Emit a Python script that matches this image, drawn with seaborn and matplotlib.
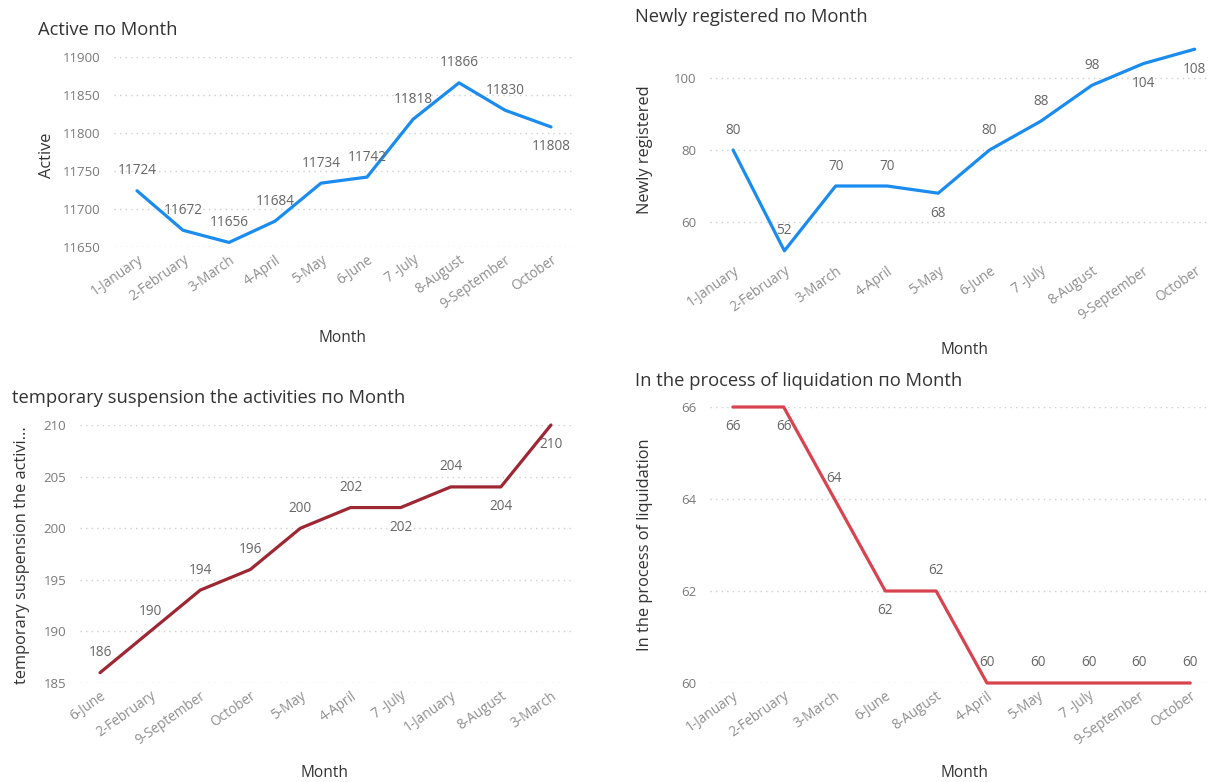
import numpy as np
import pandas as pd
import matplotlib
matplotlib.use("Agg")
import matplotlib.pyplot as plt
import seaborn as sns

sns.set_theme(style="white")
plt.rcParams['font.family'] = ['Open Sans', 'DejaVu Sans']

# ---------------- data ----------------
months_a = ["1-January", "2-February", "3-March", "4-April", "5-May", "6-June",
            "7 -July", "8-August", "9-September", "October"]
active = [11724, 11672, 11656, 11684, 11734, 11742, 11818, 11866, 11830, 11808]

months_n = months_a
newly = [80, 52, 70, 70, 68, 80, 88, 98, 104, 108]

months_t = ["6-June", "2-February", "9-September", "October", "5-May", "4-April",
            "7 -July", "1-January", "8-August", "3-March"]
suspension = [186, 190, 194, 196, 200, 202, 202, 204, 204, 210]

months_l = ["1-January", "2-February", "3-March", "6-June", "8-August", "4-April",
            "5-May", "7 -July", "9-September", "October"]
liquidation = [66, 66, 64, 62, 62, 60, 60, 60, 60, 60]

# label placement (+1 above, -1 below)
place_a = [1, 1, 1, 1, 1, 1, 1, 1, 1, -1]
place_n = [1, 1, 1, 1, -1, 1, 1, 1, -1, -1]
place_t = [1, 1, 1, 1, 1, 1, -1, 1, -1, -1]
place_l = [-1, -1, 1, -1, 1, 1, 1, 1, 1, 1]

W, H = 1209, 782
fig = plt.figure(figsize=(W / 100, H / 100), dpi=100)
fig.patch.set_facecolor("white")

BLUE = "#1A8CF0"
DARKRED = "#9E2734"
RED = "#D9434F"
TICK = "#7a7a7a"
XTICK = "#8f8f8f"
TITLE = "#333333"


def px_axes(left, top, right, bottom):
    return fig.add_axes([left / W, 1 - bottom / H, (right - left) / W, (bottom - top) / H])


def panel(left, top, right, bottom, cats, vals, place, color, ylim, yticks, xlim,
          title, title_xy, ylabel, ylabel_xy, xlabel_xy):
    ax = px_axes(left, top, right, bottom)
    df = pd.DataFrame({"Month": cats, "v": vals})
    sns.lineplot(data=df, x="Month", y="v", sort=False, color=color, lw=2.3,
                 ax=ax, clip_on=False)
    ax.set_ylim(*ylim)
    ax.set_xlim(*xlim)
    ax.set_yticks(yticks)
    ax.set_yticklabels([str(t) for t in yticks])
    ax.grid(axis="y", color="#cfcfcf", linestyle=(0, (1, 3)), lw=1.0)
    ax.grid(axis="x", visible=False)
    for s in ax.spines.values():
        s.set_visible(False)
    ax.tick_params(axis="y", length=0, colors=TICK, labelsize=9.5, pad=10)
    ax.tick_params(axis="x", length=0, colors=XTICK, labelsize=9.8, pad=4)
    for lab in ax.get_xticklabels():
        lab.set_rotation(35)
        lab.set_ha("right")
        lab.set_rotation_mode("anchor")
    ax.set_xlabel("")
    ax.set_ylabel("")
    for i, (v, p) in enumerate(zip(vals, place)):
        ax.annotate(str(v), (i, v), xytext=(0, 9 * p), textcoords="offset points",
                    ha="center", va="bottom" if p > 0 else "top", fontsize=9.8,
                    color="#666666", annotation_clip=False)
    fig.text(title_xy[0] / W, 1 - title_xy[1] / H, title, fontsize=13.2, color=TITLE,
             ha="left", va="center", fontweight="medium")
    fig.text(ylabel_xy[0] / W, 1 - ylabel_xy[1] / H, ylabel, fontsize=11.8, color=TITLE,
             rotation=90, ha="center", va="center")
    fig.text(xlabel_xy[0] / W, 1 - xlabel_xy[1] / H, "Month", fontsize=11.2, color=TITLE,
             ha="center", va="center")
    return ax


panel(114, 57, 574, 247, months_a, active, place_a, BLUE, (11650, 11900),
      [11650, 11700, 11750, 11800, 11850, 11900], (-0.5, 9.5),
      "Active по Month", (38, 30), "Active", (47, 155), (343, 338))

panel(710, 42, 1209, 258, months_n, newly, place_n, BLUE, (50, 110),
      [60, 80, 100], (-0.45, 9.28),
      "Newly registered по Month", (635, 17), "Newly registered", (645, 150), (965, 350))

panel(80, 425, 572, 683, months_t, suspension, place_t, DARKRED, (185, 210),
      [185, 190, 195, 200, 205, 210], (-0.4, 9.42),
      "temporary suspension the activities по Month", (12, 398),
      "temporary suspension the activi...", (22, 555), (325, 773))

panel(710, 407, 1209, 683, months_l, liquidation, place_l, RED, (60, 66),
      [60, 62, 64, 66], (-0.45, 9.37),
      "In the process of liquidation по Month", (635, 381),
      "In the process of liquidation", (645, 545), (965, 773))

fig.savefig("out.png", dpi=100, facecolor="white")
